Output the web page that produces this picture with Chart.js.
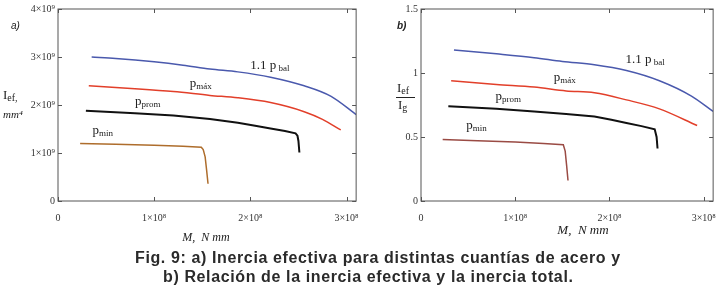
<!DOCTYPE html>
<html>
<head>
<meta charset="utf-8">
<script src="https://cdn.jsdelivr.net/npm/chart.js@4.4.1/dist/chart.umd.min.js"></script>
<style>
  body { margin: 0; background: #fff; width: 727px; height: 296px; overflow: hidden; position: relative; }
  #wrapA { position: absolute; left: 0; top: 0; }
  #wrapB { position: absolute; left: 370px; top: 0; }
  .cap { position: absolute; font-family: "Liberation Sans", Arial, sans-serif; font-weight: bold; font-size: 16px; letter-spacing: 0.62px; color: #2a2a2a; white-space: nowrap; }
</style>
</head>
<body>
<div id="wrapA"><canvas id="chartA" width="370" height="250"></canvas></div>
<div id="wrapB"><canvas id="chartB" width="357" height="250"></canvas></div>
<div class="cap" id="cap1" style="left:135px; top:249px;">Fig. 9: a) Inercia efectiva para distintas cuantías de acero y</div>
<div class="cap" id="cap2" style="left:163px; top:268px;">b) Relación de la inercia efectiva y la inercia total.</div>

<script>
// ---- data: chart a) I_ef (mm4) vs M (N mm)
const xTicks = [0, 1e8, 2e8, 3e8];
const xTickLabels = ["0", "1×10⁸", "2×10⁸", "3×10⁸"];

const yTicksA = [0, 1e9, 2e9, 3e9, 4e9];
const yTickLabelsA = ["0", "1×10⁹", "2×10⁹", "3×10⁹", "4×10⁹"];

const blueA_M = [0.35e8, 0.6e8, 1.0e8, 1.3e8, 1.58e8, 1.87e8, 2.21e8, 2.56e8, 2.84e8, 3.1e8];
const blueA_I = [3.00e9, 2.97e9, 2.90e9, 2.83e9, 2.75e9, 2.69e9, 2.58e9, 2.40e9, 2.18e9, 1.80e9];

const redA_M = [0.32e8, 0.8e8, 1.2e8, 1.58e8, 1.87e8, 2.21e8, 2.56e8, 2.75e8, 2.94e8];
const redA_I = [2.40e9, 2.34e9, 2.28e9, 2.20e9, 2.15e9, 2.05e9, 1.86e9, 1.70e9, 1.48e9];

const blackA_M = [0.29e8, 0.8e8, 1.2e8, 1.58e8, 1.87e8, 2.05e8, 2.21e8, 2.36e8, 2.47e8, 2.49e8, 2.50e8, 2.51e8];
const blackA_I = [1.88e9, 1.83e9, 1.78e9, 1.71e9, 1.63e9, 1.57e9, 1.51e9, 1.46e9, 1.41e9, 1.36e9, 1.25e9, 1.01e9];

const brownA_M = [0.23e8, 0.6e8, 1.0e8, 1.3e8, 1.49e8, 1.51e8, 1.53e8, 1.545e8, 1.56e8];
const brownA_I = [1.20e9, 1.18e9, 1.16e9, 1.14e9, 1.12e9, 1.07e9, 0.92e9, 0.65e9, 0.36e9];

// ---- data: chart b) I_ef / I_g vs M (N mm)
const yTicksB = [0, 0.5, 1, 1.5];
const yTickLabelsB = ["0", "0.5", "1", "1.5"];

const blueB_M = [0.35e8, 0.8e8, 1.2e8, 1.5e8, 1.84e8, 2.18e8, 2.53e8, 2.87e8, 3.1e8];
const blueB_R = [1.18, 1.15, 1.12, 1.09, 1.065, 1.02, 0.94, 0.82, 0.70];

const redB_M = [0.32e8, 0.8e8, 1.2e8, 1.54e8, 1.84e8, 2.18e8, 2.53e8, 2.93e8];
const redB_R = [0.94, 0.91, 0.89, 0.86, 0.845, 0.79, 0.72, 0.59];

const blackB_M = [0.29e8, 0.8e8, 1.2e8, 1.54e8, 1.84e8, 2.02e8, 2.18e8, 2.34e8, 2.48e8, 2.50e8, 2.51e8];
const blackB_R = [0.74, 0.72, 0.70, 0.68, 0.66, 0.635, 0.61, 0.585, 0.56, 0.50, 0.41];

const brownB_M = [0.23e8, 0.6e8, 1.0e8, 1.3e8, 1.51e8, 1.53e8, 1.545e8, 1.56e8];
const brownB_R = [0.48, 0.47, 0.46, 0.45, 0.44, 0.39, 0.28, 0.16];

// curve names, each one anchored at a data point (left, baseline)
const curveNames = [
  { main: "1.1 p", sub: " bal" },
  { main: "p", sub: "máx" },
  { main: "p", sub: "prom" },
  { main: "p", sub: "min" }
];
const nameAnchorsA = [[2.0e8, 2.74e9], [1.37e8, 2.37e9], [0.80e8, 2.0e9], [0.36e8, 1.40e9]];
const nameAnchorsB = [[2.17e8, 1.08], [1.41e8, 0.94], [0.79e8, 0.79], [0.48e8, 0.56]];

const SERIF = '"Liberation Serif", "DejaVu Serif", serif';

function pts(xs, ys) {
  return xs.map((x, i) => ({ x: x, y: ys[i] }));
}

// smooth = monotone curve through the points, otherwise straight segments
function line(color, width, xs, ys, smooth) {
  return {
    data: pts(xs, ys), showLine: true, borderColor: color, borderWidth: width,
    pointRadius: 0, fill: false, tension: 0,
    cubicInterpolationMode: smooth ? "monotone" : "default"
  };
}

function drawRich(ctx, x, y, parts) {
  let cx = x;
  parts.forEach(p => {
    ctx.font = p.font;
    ctx.fillText(p.t, cx, y + (p.dy || 0));
    cx += ctx.measureText(p.t).width;
  });
}

// box around the plot with small inward ticks on all four sides
const framePlugin = {
  id: "frame",
  afterDraw(chart) {
    const { ctx, chartArea: a, scales: { x, y } } = chart;
    ctx.save();
    ctx.strokeStyle = "#555";
    ctx.lineWidth = 1;
    ctx.strokeRect(a.left, a.top, a.right - a.left, a.bottom - a.top);
    ctx.beginPath();
    x.ticks.forEach(t => {
      const px = Math.round(x.getPixelForValue(t.value)) + 0.5;
      ctx.moveTo(px, a.bottom); ctx.lineTo(px, a.bottom - 4);
      ctx.moveTo(px, a.top); ctx.lineTo(px, a.top + 4);
    });
    y.ticks.forEach(t => {
      const py = Math.round(y.getPixelForValue(t.value)) + 0.5;
      ctx.moveTo(a.left, py); ctx.lineTo(a.left + 4, py);
      ctx.moveTo(a.right, py); ctx.lineTo(a.right - 4, py);
    });
    ctx.stroke();
    ctx.restore();
  }
};

function namesPlugin(anchors, extra) {
  return {
    id: "names",
    afterDraw(chart) {
      const { ctx, scales: { x, y } } = chart;
      ctx.save();
      ctx.fillStyle = "#222";
      ctx.textBaseline = "alphabetic";
      curveNames.forEach((n, i) => {
        const px = x.getPixelForValue(anchors[i][0]);
        const py = y.getPixelForValue(anchors[i][1]);
        drawRich(ctx, px, py, [
          { t: n.main, font: "13px " + SERIF },
          { t: n.sub, font: "9px " + SERIF, dy: 2 }
        ]);
      });
      extra(ctx, chart);
      ctx.restore();
    }
  };
}

function makeChart(id, datasets, yMax, yTicks, yLabels, axisWidth, padRight, plugin) {
  return new Chart(document.getElementById(id), {
    type: "scatter",
    data: { datasets: datasets },
    options: {
      responsive: false,
      animation: false,
      layout: { padding: { left: 0, right: padRight, top: 7, bottom: 0 } },
      plugins: { legend: { display: false }, tooltip: { enabled: false } },
      scales: {
        x: {
          type: "linear", min: 0, max: 3.1e8,
          grid: { display: false, drawTicks: false }, border: { display: false },
          afterBuildTicks: s => { s.ticks = xTicks.map(v => ({ value: v })); },
          afterFit: s => { s.height = 49; },
          ticks: {
            padding: 11, color: "#333", font: { family: SERIF, size: 10 },
            callback: v => xTickLabels[xTicks.indexOf(v)]
          }
        },
        y: {
          type: "linear", min: 0, max: yMax,
          grid: { display: false, drawTicks: false }, border: { display: false },
          afterBuildTicks: s => { s.ticks = yTicks.map(v => ({ value: v })); },
          afterFit: s => { s.width = axisWidth; },
          ticks: {
            padding: 3, color: "#333", font: { family: SERIF, size: 10 },
            callback: v => yLabels[yTicks.indexOf(v)]
          }
        }
      }
    },
    plugins: [framePlugin, plugin]
  });
}

// chart a)
makeChart("chartA", [
  line("#4a59ad", 1.5, blueA_M, blueA_I, true),
  line("#e23f2a", 1.5, redA_M, redA_I, true),
  line("#111111", 2, blackA_M, blackA_I, false),
  line("#ae6d2c", 1.5, brownA_M, brownA_I, false)
], 4e9, yTicksA, yTickLabelsA, 58, 13, namesPlugin(nameAnchorsA, (ctx, chart) => {
  ctx.fillStyle = "#222";
  ctx.font = "italic 10px " + '"Liberation Sans", sans-serif';
  ctx.fillText("a)", 11, 29);
  drawRich(ctx, 3, 99, [
    { t: "I", font: "13px " + SERIF },
    { t: "ef,", font: "10px " + SERIF, dy: 2 }
  ]);
  ctx.font = "italic 11px " + SERIF;
  ctx.fillText("mm⁴", 3, 118);
  ctx.textAlign = "center";
  ctx.font = "italic 12px " + SERIF;
  ctx.fillText("M,  N mm", 206, 241);
}));

// chart b)
makeChart("chartB", [
  line("#4a59ad", 1.5, blueB_M, blueB_R, true),
  line("#e23f2a", 1.5, redB_M, redB_R, true),
  line("#111111", 2, blackB_M, blackB_R, false),
  line("#9a4b44", 1.5, brownB_M, brownB_R, false)
], 1.5, yTicksB, yTickLabelsB, 51, 7, namesPlugin(nameAnchorsB, (ctx, chart) => {
  ctx.fillStyle = "#222";
  ctx.font = "bold italic 10px " + '"Liberation Sans", sans-serif';
  ctx.fillText("b)", 27, 29);
  drawRich(ctx, 27, 92, [
    { t: "I", font: "13px " + SERIF },
    { t: "ef", font: "10px " + SERIF, dy: 2 }
  ]);
  ctx.strokeStyle = "#222";
  ctx.lineWidth = 1;
  ctx.beginPath(); ctx.moveTo(26, 97.5); ctx.lineTo(45, 97.5); ctx.stroke();
  drawRich(ctx, 28, 109, [
    { t: "I", font: "13px " + SERIF },
    { t: "g", font: "10px " + SERIF, dy: 2 }
  ]);
  ctx.textAlign = "center";
  ctx.font = "italic 13px " + SERIF;
  ctx.fillText("M,  N mm", 213, 234);
}));
</script>
</body>
</html>
